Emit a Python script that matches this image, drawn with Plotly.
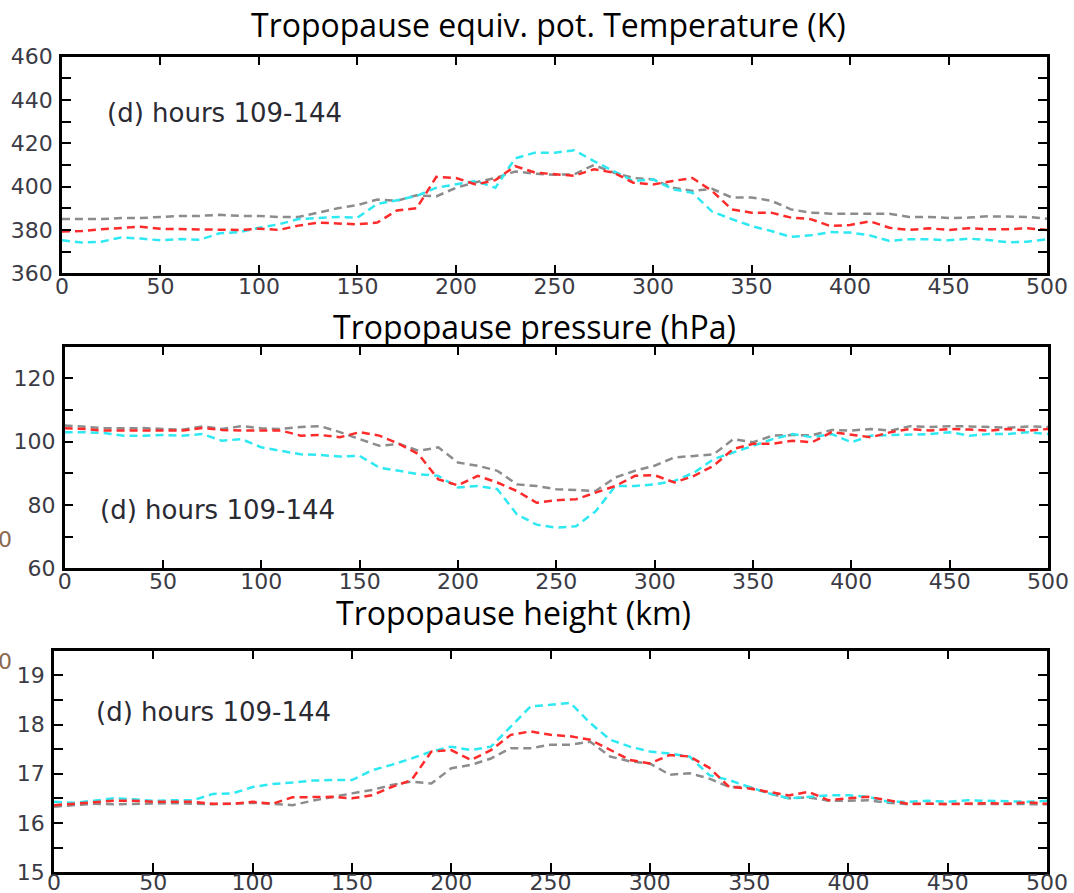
import plotly.graph_objects as go

# Along-track distance (km), 10 km spacing
dist = list(range(0, 501, 10))

# Tropopause equivalent potential temperature (K)
theta_gray = [385, 385, 385, 385.5, 385.5, 386, 386.5, 386.5, 387, 386.5,
              386.5, 386, 386, 388, 390, 391.5, 394, 393.5, 396, 395.5,
              399.5, 402, 404, 407, 406, 405.5, 405.7, 410, 406.5, 404,
              403.4, 399.5, 398, 399, 395, 395, 393.5, 389.5, 388, 387.5,
              387.5, 387.2, 387.5, 386, 386, 385.5, 385.7, 386.3, 386.3, 386, 385.2]
theta_red = [379.3, 379.5, 380.3, 381, 381.5, 380.5, 380.3, 380.3, 380, 380,
             380.6, 380, 382, 383.4, 383, 382.6, 383.4, 389, 390, 404.5,
             404, 401, 403, 409.5, 406.5, 405.7, 405, 408, 406.5, 401.8,
             401, 402.6, 404, 398, 389.5, 388, 388, 385.7, 385, 381.8,
             382.3, 384, 381, 380, 380.8, 380, 380.8, 380.3, 380.3, 380.8, 380]
theta_cyan = [375.2, 374.2, 374.6, 376.5, 376, 375.2, 375.8, 375.5, 378.5, 379,
              381, 382.6, 385, 385.4, 386, 385.7, 392, 393.7, 395.7, 399.5,
              401, 402.6, 399.5, 413, 415.7, 415.7, 416.8, 411.8, 407.2, 402.6,
              403.4, 398.8, 397.2, 388.5, 385, 381.8, 379.5, 376.8, 377.5, 379,
              378.8, 377.5, 374.9, 375.7, 375.7, 375.2, 376, 375.4, 374.3, 374.6, 375.7]

# Tropopause pressure (hPa)
pres_gray = [105.1, 104.6, 104.3, 104.2, 104.3, 104, 103.8, 104.8, 104, 104.9,
             104.2, 104, 104.6, 104.9, 103, 100.8, 98.7, 99.3, 97.1, 98.2,
             93.4, 92.4, 90.8, 86.5, 86, 85, 84.7, 84.4, 88.7, 90.8,
             92.4, 95, 95.5, 96, 100.8, 99.8, 101.9, 102.1, 102, 103.7,
             103.5, 104, 103.5, 104.9, 104.6, 104.9, 104.8, 104.6, 104.4, 104.8, 104.6]
pres_red = [104.2, 104, 103.5, 103.5, 103.5, 103.7, 103.5, 104.3, 103.7, 103.5,
            103.5, 103.5, 101.9, 102.1, 101.4, 103, 101.9, 99.3, 96, 88.1,
            86.2, 89.2, 87.1, 84.4, 80.7, 81.5, 81.8, 83.9, 86, 89.2,
            89.4, 87.1, 89.2, 92.4, 97.7, 99.3, 99.3, 100.3, 99.8, 103,
            102.1, 101.4, 103, 104, 103.5, 104, 103.8, 103.5, 104, 103.5, 104]
pres_cyan = [103, 103, 102.7, 101.9, 101.9, 102.1, 101.9, 102.4, 100.3, 100.8,
             98.2, 97.1, 96, 95.8, 95.3, 95.5, 91.8, 90.8, 89.7, 89.2,
             85.5, 86, 85, 77, 73.8, 72.8, 73.3, 78, 86, 86,
             86.5, 87.6, 90.2, 94.5, 96.6, 98.7, 100.8, 102.4, 101.4, 102.4,
             99.8, 101.9, 102.1, 102.4, 102.4, 103, 101.9, 102.4, 102.4, 103, 102.4]

# Tropopause height (km)
hgt_gray = [16.33, 16.36, 16.39, 16.38, 16.39, 16.39, 16.4, 16.39, 16.38, 16.39,
            16.41, 16.39, 16.36, 16.45, 16.53, 16.6, 16.67, 16.77, 16.84, 16.8,
            17.11, 17.18, 17.31, 17.52, 17.52, 17.59, 17.59, 17.65, 17.35, 17.25,
            17.21, 16.98, 17.01, 16.9, 16.73, 16.73, 16.6, 16.5, 16.52, 16.45,
            16.45, 16.46, 16.41, 16.38, 16.39, 16.39, 16.38, 16.39, 16.38, 16.39, 16.38]
hgt_red = [16.36, 16.39, 16.41, 16.45, 16.45, 16.43, 16.43, 16.43, 16.39, 16.39,
           16.43, 16.39, 16.52, 16.53, 16.53, 16.5, 16.56, 16.73, 16.87, 17.45,
           17.48, 17.28, 17.48, 17.79, 17.86, 17.79, 17.76, 17.69, 17.48, 17.28,
           17.21, 17.38, 17.35, 17.12, 16.73, 16.7, 16.63, 16.56, 16.63, 16.46,
           16.5, 16.53, 16.46, 16.39, 16.39, 16.38, 16.39, 16.4, 16.39, 16.42, 16.39]
hgt_cyan = [16.43, 16.41, 16.45, 16.5, 16.48, 16.45, 16.46, 16.46, 16.59, 16.6,
            16.73, 16.79, 16.82, 16.86, 16.87, 16.87, 17.07, 17.18, 17.31, 17.45,
            17.55, 17.48, 17.55, 17.96, 18.37, 18.4, 18.44, 18.03, 17.69, 17.55,
            17.45, 17.41, 17.35, 16.97, 16.87, 16.73, 16.6, 16.5, 16.53, 16.56,
            16.56, 16.53, 16.43, 16.43, 16.45, 16.43, 16.46, 16.45, 16.43, 16.43, 16.45]

x_ticks = list(range(0, 501, 50))

GRAY = "#8c8c8c"
RED = "#ff2a2a"
CYAN = "#2ee8f2"
DASH = "8px,5px"
LABEL_COLOR = "#3b3b45"
TICK_FONT = dict(family="DejaVu Sans", size=22, color=LABEL_COLOR)

panels = [
    # (series, y range, y tick step, label step, title, x domain, y domain, x-label standoff)
    ((theta_gray, theta_cyan, theta_red), (360, 460), 10, 20,
     "Tropopause equiv. pot. Temperature (K)",
     [0.0577, 0.9749], [0.6940, 0.9365], -8),
    ((pres_gray, pres_cyan, pres_red), (60, 130), 10, 20,
     "Tropopause pressure (hPa)",
     [0.0602, 0.9758], [0.3636, 0.6118], -8),
    ((hgt_gray, hgt_cyan, hgt_red), (15, 19.5), 0.5, 1,
     "Tropopause height (km)",
     [0.0503, 0.9749], [0.0234, 0.2713], -11),
]

fig = go.Figure()
annotations = []

for i, (series, yr, ystep, lstep, title, xdom, ydom, xstand) in enumerate(panels, start=1):
    xa = "x" if i == 1 else f"x{i}"
    ya = "y" if i == 1 else f"y{i}"
    for vals, col in zip(series, (GRAY, CYAN, RED)):
        fig.add_trace(go.Scatter(
            x=dist, y=vals, mode="lines", xaxis=xa, yaxis=ya,
            line=dict(color=col, width=2.5, dash=DASH),
            showlegend=False, hoverinfo="skip"))

    n = int(round((yr[1] - yr[0]) / ystep))
    yvals = [yr[0] + k * ystep for k in range(n + 1)]
    ytext = []
    for v in yvals:
        r = (v - yr[0]) / lstep
        ytext.append(f"{v:g}" if abs(r - round(r)) < 1e-6 else "")

    xkey = "xaxis" if i == 1 else f"xaxis{i}"
    ykey = "yaxis" if i == 1 else f"yaxis{i}"
    fig.update_layout(**{
        xkey: dict(domain=xdom, anchor=ya, range=[0, 500],
                   tickvals=x_ticks, ticktext=[str(t) for t in x_ticks],
                   ticks="inside", ticklen=9, tickwidth=2, tickcolor="black",
                   showline=True, linecolor="black", linewidth=2.5,
                   mirror="ticks", showgrid=False, zeroline=False,
                   automargin=False, tickfont=TICK_FONT,
                   ticklabelstandoff=xstand),
        ykey: dict(domain=ydom, anchor=xa, range=list(yr),
                   tickvals=yvals, ticktext=ytext,
                   ticks="inside", ticklen=9, tickwidth=2, tickcolor="black",
                   showline=True, linecolor="black", linewidth=2.5,
                   mirror="ticks", showgrid=False, zeroline=False,
                   automargin=False, tickfont=TICK_FONT, ticklabelstandoff=2),
    })

# Panel titles
title_pos = [(548, 24), (534, 326), (513, 612)]
for (px, py), p in zip(title_pos, panels):
    annotations.append(dict(
        text=p[4], x=px / 1074, y=1 - py / 893, xref="paper", yref="paper",
        xanchor="center", yanchor="middle", showarrow=False,
        font=dict(family="Open Sans", size=32, color="black")))

# In-panel period labels
label_pos = [("x", "y", 22, 434), ("x2", "y2", 17, 78.4), ("x3", "y3", 20, 18.25)]
for xr, yr_, lx, ly in label_pos:
    annotations.append(dict(
        text="(d) hours 109-144", x=lx, y=ly, xref=xr, yref=yr_,
        xanchor="left", yanchor="middle", showarrow=False,
        font=dict(family="DejaVu Sans", size=26, color="#2a2a33")))

# Clipped tick-label fragments at the left edge
for py in (539, 661):
    annotations.append(dict(
        text="0", x=14 / 1074, y=1 - py / 893, xref="paper", yref="paper",
        xanchor="right", yanchor="middle", showarrow=False,
        font=dict(family="DejaVu Sans", size=22, color="#8a6a50")))

fig.update_layout(
    width=1074, height=893,
    margin=dict(l=0, r=0, t=0, b=0),
    paper_bgcolor="white", plot_bgcolor="white",
    annotations=annotations,
)

fig.write_html("out.html")
